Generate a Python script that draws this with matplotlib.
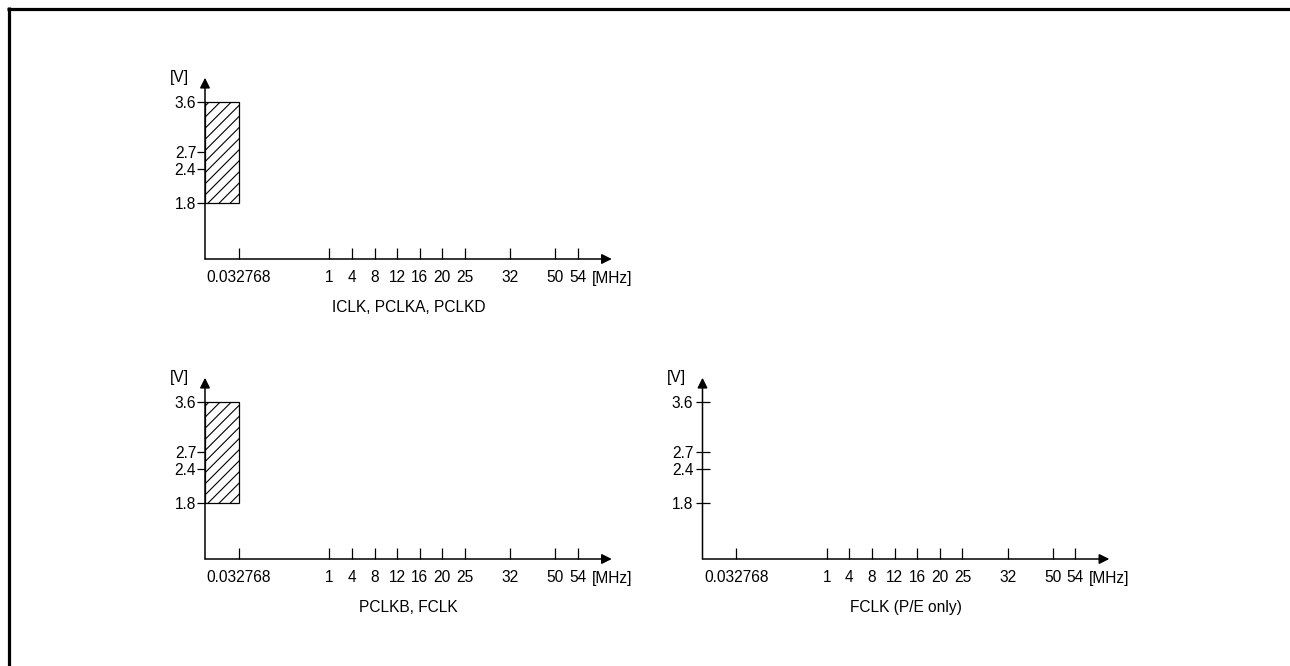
import matplotlib
matplotlib.use("Agg")
import matplotlib.pyplot as plt
from matplotlib.lines import Line2D

plt.rcParams["font.family"] = ["Liberation Sans", "DejaVu Sans"]
plt.rcParams["font.size"] = 11.2
plt.rcParams["hatch.linewidth"] = 0.8

DPI = 100
W, H = 1290, 666

# Frequency axis (schematic, not to scale): labels and the number of
# unit steps between consecutive ticks
freq_labels = ["0.032768", "1", "4", "8", "12", "16", "20", "25", "32", "50", "54"]
freq_steps = [0, 4, 1, 1, 1, 1, 1, 1, 2, 2, 1]

# Voltage axis ticks
volt_ticks = [1.8, 2.4, 2.7, 3.6]

# Operating region: from 0 up to the first frequency tick, 1.8 V to 3.6 V
region_vmin, region_vmax = 1.8, 3.6

panels = [
    # (caption, has operating region, axes origin in pixels (x, y from top))
    ("ICLK, PCLKA, PCLKD", True, (205, 259)),
    ("PCLKB, FCLK", True, (205, 559)),
    ("FCLK (P/E only)", False, (702.5, 559)),
]

# cumulative tick slots along the frequency axis
freq_pos = []
acc = 0
for s in freq_steps:
    acc += s
    freq_pos.append(acc)

X0, X1 = -1.5, 16.5      # axis extent in slot units
Y0, Y1 = 0.8, 4.03       # axis extent in volts
PX_PER_SLOT = 22.6
PX_PER_VOLT = 56.1
px2pt = 72.0 / DPI

fig = plt.figure(figsize=(W / DPI, H / DPI), dpi=DPI)

# outer frame (top and left edges)
fig.add_artist(Line2D([7 / W, 1.0], [1 - 8.5 / H, 1 - 8.5 / H],
                      transform=fig.transFigure, color="black", lw=2.3,
                      solid_capstyle="butt"))
fig.add_artist(Line2D([8.5 / W, 8.5 / W], [1 - 7 / H, 0.0],
                      transform=fig.transFigure, color="black", lw=2.3,
                      solid_capstyle="butt"))

for caption, has_region, (ox, oy) in panels:
    w_px = (X1 - X0) * PX_PER_SLOT
    h_px = (Y1 - Y0) * PX_PER_VOLT
    ax = fig.add_axes([ox / W, (H - oy) / H, w_px / W, h_px / H])
    ax.set_xlim(X0, X1)
    ax.set_ylim(Y0, Y1)
    ax.patch.set_alpha(0)
    for sp in ax.spines.values():
        sp.set_visible(False)

    # axes with arrow heads
    arrow = dict(arrowstyle="-|>", lw=1.1, color="black",
                 mutation_scale=15, shrinkA=0, shrinkB=0)
    ax.annotate("", xy=(X1, Y0), xytext=(X0, Y0), arrowprops=arrow,
                annotation_clip=False)
    ax.annotate("", xy=(X0, Y1), xytext=(X0, Y0), arrowprops=arrow,
                annotation_clip=False)

    ax.set_xticks(freq_pos, freq_labels)
    ax.set_yticks(volt_ticks, [f"{v:.1f}" for v in volt_ticks])
    ax.tick_params(axis="x", direction="in", length=11 * px2pt, width=0.9,
                   pad=8.0, colors="black", labelsize=11.2)
    if has_region:
        ax.tick_params(axis="y", direction="out", length=8 * px2pt,
                       width=0.9, pad=0.6, labelsize=11.2)
    else:
        ax.tick_params(axis="y", direction="inout", length=14 * px2pt,
                       width=0.9, pad=1.5, labelsize=11.2)

    if has_region:
        ax.bar(X0, region_vmax - region_vmin, width=freq_pos[0] - X0,
               bottom=region_vmin, align="edge", color="white",
               edgecolor="black", linewidth=0.9, hatch="///", zorder=3)

    # unit labels and caption
    ax.annotate("[MHz]", xy=(freq_pos[-1], Y0), xycoords="data",
                xytext=(13.7 * px2pt, -24.5 * px2pt), textcoords="offset points",
                ha="left", va="baseline", annotation_clip=False)
    ax.annotate("[V]", xy=(0, 1), xycoords="axes fraction",
                xytext=(-16 * px2pt, -4.5 * px2pt), textcoords="offset points",
                ha="right", va="baseline")
    ax.annotate(caption, xy=(0.5, 0), xycoords="axes fraction",
                xytext=(0, -53 * px2pt), textcoords="offset points",
                ha="center", va="baseline")

fig.savefig("out.png", dpi=DPI)
